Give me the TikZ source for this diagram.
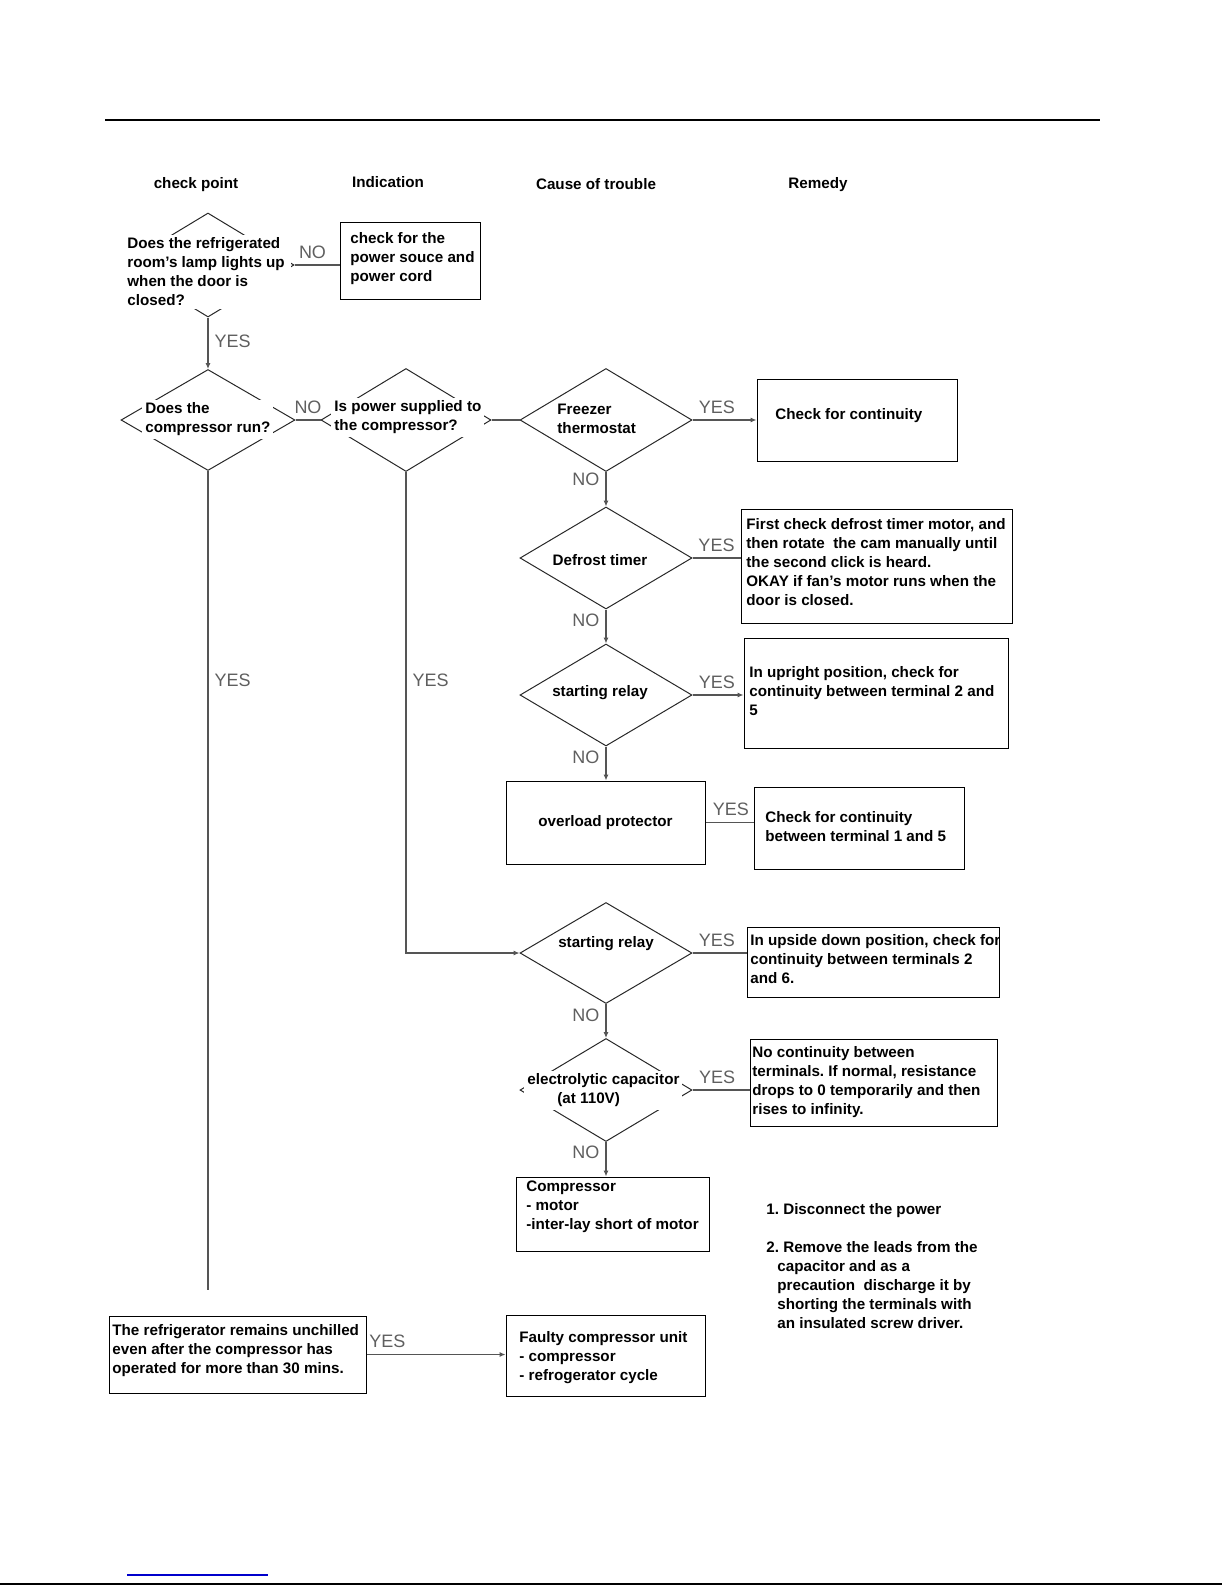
\documentclass[tikz,border=0pt]{standalone}
\usepackage{fontspec}
\setmainfont{Liberation Sans}
\usepackage{tikz}
\usetikzlibrary{shapes.geometric}
\usetikzlibrary{arrows.meta}
\definecolor{lineg}{RGB}{85,85,85}
\definecolor{labg}{RGB}{95,95,95}
\definecolor{diag}{RGB}{40,40,40}
\definecolor{linkblue}{RGB}{0,0,204}
\frenchspacing

\begin{document}
\begin{tikzpicture}[x=0.5pt,y=-0.5pt,
        font=\fontsize{7.6}{9.5}\selectfont\bfseries,
        dia/.style={diamond,draw=diag,line width=0.5pt,inner sep=0pt,minimum width=86pt,minimum height=51pt},
        dtext/.style={fill=white,inner sep=1.5pt,align=left},
        box/.style={draw=black,line width=0.5pt,inner sep=0pt},
        btext/.style={inner sep=0pt,anchor=west,align=left},
        lbl/.style={font=\fontsize{9}{10}\selectfont,text=labg,inner sep=3pt},
        line/.style={draw=lineg,line width=0.6pt},
        flow/.style={line,-{Latex[length=3pt,width=2.6pt]}}]
    \useasboundingbox (0,0) rectangle (1225,1585);
    \draw[line width=0.8pt] (105,120) -- (1100,120);
    \node (hCheck) at (196,185) {check point};
    \node (hInd) at (388,182) {Indication};
    \node (hCause) at (596,184) {Cause of trouble};
    \node (hRem) at (818,185) {Remedy};

    \node[dia,minimum height=52pt] (lamp) at (208,265) {};
    \node[dtext,anchor=west,inner xsep=3pt] (lampT) at (121,272) {Does the refrigerated\\room's lamp lights up\\when the door is\\closed?};
    \node[box,minimum width=70pt,minimum height=38.5pt] (power) at (410,260.5) {};
    \node[btext] (powerT) at (350,259) {check for the\\power souce and\\power cord};

    \node[dia,minimum width=87pt,minimum height=50.5pt] (run) at (208,420) {};
    \node[dtext,anchor=west] (runT) at (142,419.5) {Does the\\compressor run?};
    \node[dia,minimum width=85pt,minimum height=51.5pt] (pwr) at (406,420) {};
    \node[dtext,anchor=west] (pwrT) at (331,417.5) {Is power supplied to\\the compressor?};

    \node[dia,minimum height=51.5pt] (freez) at (606,420) {};
    \node[dtext,anchor=west] (freezT) at (554,418.5) {Freezer\\thermostat};
    \node[box,minimum width=100pt,minimum height=41pt] (bFreez) at (857,420) {};
    \node[btext] (bFreezT) at (775,416) {Check for continuity};

    \node[dia] (defr) at (606,558) {};
    \node[dtext] (defrT) at (600,560) {Defrost timer};
    \node[box,minimum width=135.5pt,minimum height=57pt] (bDefr) at (876.5,566) {};
    \node[btext] (bDefrT) at (746,562) {First check defrost timer motor, and\\then rotate\ \ the cam manually until\\the second click is heard.\\OKAY if fan's motor runs when the\\door is closed.};

    \node[dia] (relA) at (606,695) {};
    \node[dtext] (relAT) at (600,693) {starting relay};
    \node[box,minimum width=132pt,minimum height=55pt] (bRelA) at (876,693) {};
    \node[btext] (bRelAT) at (749,691) {In upright position, check for\\continuity between terminal 2 and\\5};

    \node[box,minimum width=99.5pt,minimum height=41.5pt] (over) at (605.5,822.5) {overload protector};
    \node[box,minimum width=105pt,minimum height=41pt] (bOverR) at (859,828) {};
    \node[btext] (bOverRT) at (765,827) {Check for continuity\\between terminal 1 and 5};

    \node[dia,minimum height=50.5pt] (relB) at (606,953) {};
    \node[dtext] (relBT) at (606,944) {starting relay};
    \node[box,minimum width=126pt,minimum height=35pt] (bRelB) at (873,962) {};
    \node[btext] (bRelBT) at (750,959) {In upside down position, check for\\continuity between terminals 2\\and 6.};

    \node[dia,minimum height=51.5pt] (cap) at (606,1090) {};
    \node[dtext,anchor=west] (capT) at (524,1090.5) {electrolytic capacitor\\\hspace*{15pt}(at 110V)};
    \node[box,minimum width=123.5pt,minimum height=43.5pt] (bCap) at (873.5,1082.5) {};
    \node[btext] (bCapT) at (752,1082.5) {No continuity between\\terminals. If normal, resistance\\drops to 0 temporarily and then\\rises to infinity.};

    \node[box,minimum width=96.5pt,minimum height=37pt] (comp) at (612.5,1214) {};
    \node[btext] (compT) at (526,1207) {Compressor\\- motor\\-inter-lay short of motor};

    \node[box,minimum width=128.5pt,minimum height=38.5pt] (chill) at (237.5,1354.5) {};
    \node[btext] (chillT) at (112,1351) {The refrigerator remains unchilled\\even after the compressor has\\operated for more than 30 mins.};
    \node[box,minimum width=99.5pt,minimum height=40.5pt] (faulty) at (605.5,1355.5) {};
    \node[btext] (faultyT) at (519,1358) {Faulty compressor unit\\- compressor\\- refrogerator cycle};

    \node[btext] (notes) at (766,1266) {1. Disconnect the power\\[9.5pt]2. Remove the leads from the\\\hspace*{5.5pt}capacitor and as a\\\hspace*{5.5pt}precaution\ \ discharge it by\\\hspace*{5.5pt}shorting the terminals with\\\hspace*{5.5pt}an insulated screw driver.};

    \coordinate (runEnd) at (208,1290);
    \draw[line] (lamp.east) -- node[lbl,above,pos=0.4] {NO} (lamp.east -| power.west);
    \draw[flow] (lamp.south) -- node[lbl,right,pos=0.46] {YES} (run.north);
    \draw[line] (run.east) -- node[lbl,above] {NO} (pwr.west);
    \draw[line] (pwr.east) -- (freez.west);
    \draw[flow] (freez.east) -- node[lbl,above,pos=0.38] {YES} (bFreez.west);
    \draw[flow] (freez.south) -- node[lbl,left,pos=0.22] {NO} (defr.north);
    \draw[line] (defr.east) -- node[lbl,above,pos=0.5] {YES} (defr.east -| bDefr.west);
    \draw[flow] (defr.south) -- node[lbl,left,pos=0.31] {NO} (relA.north);
    \draw[flow] (relA.east) -- node[lbl,above,pos=0.48] {YES} (relA.east -| bRelA.west);
    \draw[flow] (relA.south) -- node[lbl,left,pos=0.31] {NO} (relA.south |- over.north);
    \draw[line] (over.east) -- node[lbl,above,pos=0.53] {YES} (over.east -| bOverR.west);
    \draw[flow] (pwr.south) |- node[lbl,right,pos=0.217] {YES} (relB.west);
    \draw[line] (relB.east) -- node[lbl,above,pos=0.45] {YES} (relB.east -| bRelB.west);
    \draw[flow] (relB.south) -- node[lbl,left,pos=0.32] {NO} (cap.north);
    \draw[line] (cap.east) -- node[lbl,above,pos=0.43] {YES} (cap.east -| bCap.west);
    \draw[flow] (cap.south) -- node[lbl,left,pos=0.3] {NO} (cap.south |- comp.north);
    \draw[line] (run.south) -- node[lbl,right,pos=0.255] {YES} (runEnd);
    \draw[flow] (chill.east) -- node[lbl,above,pos=0.15] {YES} (chill.east -| faulty.west);

    \draw[draw=linkblue,line width=0.6pt] (127,1575) -- (268,1575);
    \draw[line width=1pt] (0,1584) -- (1222,1584);
\end{tikzpicture}
\end{document}
